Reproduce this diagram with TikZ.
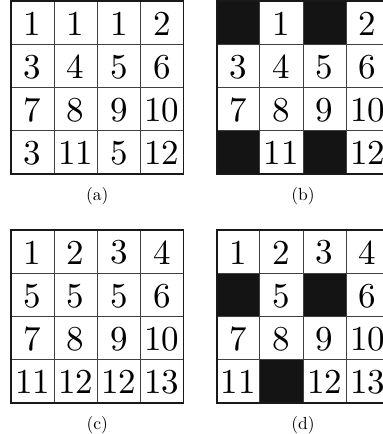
\documentclass[tikz,border=0pt]{standalone}
\usepackage{fontspec}
\newfontfamily\lmten{lmroman10-regular}[Extension=.otf]
\begin{document}
\begin{tikzpicture}[x=1pt,y=-1pt,
  num/.style={inner sep=0pt,font=\lmten\fontsize{35}{35}\selectfont},
  caplabel/.style={inner sep=0pt,font=\lmten\fontsize{17.5}{18}\selectfont},
  inner/.style={line width=0.9pt,draw=black!75},
  outer/.style={line width=1.4pt,draw=black!90}]
\useasboundingbox (0,0) rectangle (383,434);
\def\cw{43.1}
\def\ch{43.2}
\newcommand{\mygrid}[4]{%
  \foreach \lab [count=\i from 0] in {#4} {
    \pgfmathtruncatemacro{\r}{div(\i,4)}
    \pgfmathtruncatemacro{\c}{mod(\i,4)}
    \ifx\lab\blk
      \fill[black!92] ({#2+\c*\cw},{#3+\r*\ch}) rectangle ++(\cw,\ch);
      \coordinate (#1-\r-\c) at ({#2+(\c+0.5)*\cw},{#3+(\r+0.5)*\ch});
    \else
      \node[num] (#1-\r-\c) at ({#2+(\c+0.5)*\cw},{#3+(\r+0.5)*\ch+1}) {\lab};
    \fi
  }
  \foreach \k in {1,2,3} {
    \draw[inner] ({#2+\k*\cw},#3) -- ({#2+\k*\cw},{#3+4*\ch});
    \draw[inner] (#2,{#3+\k*\ch}) -- ({#2+4*\cw},{#3+\k*\ch});
  }
  \draw[outer] (#2,#3) rectangle ({#2+4*\cw},{#3+4*\ch});
}
\def\blk{X}
\mygrid{a}{11}{1}{1,1,1,2,3,4,5,6,7,8,9,10,3,11,5,12}
\mygrid{b}{216.8}{1}{X,1,X,2,3,4,5,6,7,8,9,10,X,11,X,12}
\mygrid{c}{11}{230}{1,2,3,4,5,5,5,6,7,8,9,10,11,12,12,13}
\mygrid{d}{216.8}{230}{1,2,3,4,X,5,X,6,7,8,9,10,11,X,12,13}
\node[caplabel] (la) at (97.2,196) {(a)};
\node[caplabel] (lb) at (303,196) {(b)};
\node[caplabel] (lc) at (97.2,425) {(c)};
\node[caplabel] (ld) at (303,425) {(d)};
\end{tikzpicture}
\end{document}
